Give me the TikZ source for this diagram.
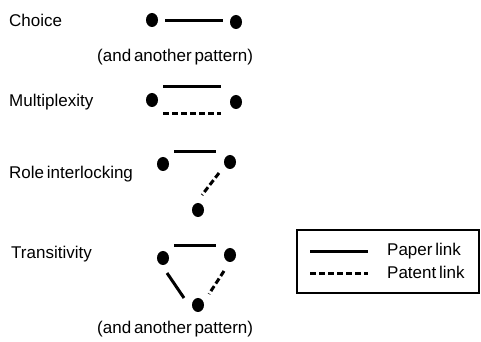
\documentclass[tikz,border=0pt]{standalone}
\usepackage{fontspec}
\setmainfont[WordSpace=0.6]{Liberation Sans}
\usetikzlibrary{shapes.geometric}
\tikzset{
  dot/.style={ellipse, fill=black, draw=none, inner sep=0pt, minimum width=12pt, minimum height=14pt},
  lbl/.style={anchor=base west, inner sep=0pt, font=\fontsize{17pt}{20pt}\selectfont},
  paper/.style={line width=3pt},
  patent/.style={line width=3pt, dash pattern=on 6pt off 3pt},
  legendbox/.style={draw, line width=1.3pt, minimum width=182pt, minimum height=63pt, inner sep=0pt}
}
\begin{document}
\begin{tikzpicture}[x=1pt, y=1pt]
\useasboundingbox (0,0) rectangle (481,342);

% pattern names
\node[lbl] (tchoice) at (9,315) {Choice};
\node[lbl] (tother1) at (97,280) {(and another pattern)};
\node[lbl] (tmulti)  at (9,235) {Multiplexity};
\node[lbl] (trole)   at (9,163) {Role interlocking};
\node[lbl] (ttrans)  at (11,83) {Transitivity};
\node[lbl] (tother2) at (97,9) {(and another pattern)};

% choice
\node[dot] (c1) at (152,322) {};
\node[dot] (c2) at (236,320) {};
\draw[paper] ([shift={(13,-1)}]c1.center) -- ([shift={(-13,1)}]c2.center);

% multiplexity
\node[dot] (m1) at (152,242) {};
\node[dot] (m2) at (236,240) {};
\draw[paper]  ([shift={(11,13)}]m1.center)  -- ([shift={(-15,15)}]m2.center);
\draw[patent] ([shift={(11,-14)}]m1.center) -- ([shift={(-15,-12)}]m2.center);

% role interlocking
\node[dot] (r1) at (163,178) {};
\node[dot] (r2) at (230,180) {};
\node[dot] (r3) at (198,132) {};
\draw[paper]  ([shift={(11,12)}]r1.center)  -- ([shift={(-14,10)}]r2.center);
\draw[patent] ([shift={(-11,-11)}]r2.center) -- ([shift={(4,15)}]r3.center);

% transitivity
\node[dot] (t1) at (163,84) {};
\node[dot] (t2) at (230,87) {};
\node[dot] (t3) at (198,37) {};
\draw[paper]  ([shift={(11,12)}]t1.center) -- ([shift={(-14,9)}]t2.center);
\draw[paper]  ([shift={(4,-15)}]t1.center) -- ([shift={(-14,7)}]t3.center);
\draw[patent] ([shift={(-6,-16)}]t2.center) -- ([shift={(11,11)}]t3.center);

% legend
\node[legendbox] (legend) at (388,80.5) {};
\coordinate (pa) at (310,90);
\coordinate (pb) at (368,90);
\coordinate (qa) at (310,68);
\coordinate (qb) at (368,68);
\draw[paper]  (pa) -- (pb);
\draw[patent] (qa) -- (qb);
\node[lbl] (tpaper)  at (387,86) {Paper link};
\node[lbl] (tpatent) at (387,63) {Patent link};
\end{tikzpicture}
\end{document}
